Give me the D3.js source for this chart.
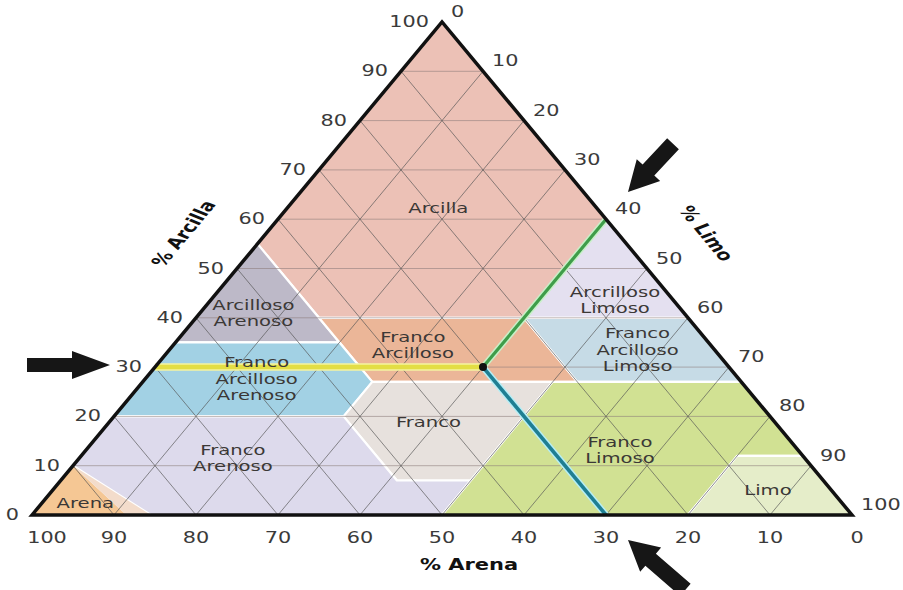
<!DOCTYPE html>
<html lang="es">
<head>
<meta charset="UTF-8">
<title>triangulo textura</title>
<script src="https://cdn.jsdelivr.net/npm/d3@7"></script>
<style>
    *{
        padding: 0;
        margin: 0;
    }
    body{
        background: #fff;
    }
    svg{
        display: block;
    }
    text{
        font-family: "DejaVu Sans", sans-serif;
    }
</style>
</head>
<body>
<script>
    // valores de los ejes
    let ticks = [0,10,20,30,40,50,60,70,80,90,100];
    let gridVals = [10,20,30,40,50,60,70,80,90];
    // clases texturales, vertices como [arena, arcilla] en %
    let classNames = ["Arcilla","Arcilloso Arenoso","Arcrilloso Limoso","Franco Arcilloso",
        "Franco Arcilloso Limoso","Franco Arcilloso Arenoso","Franco","Franco Arenoso",
        "Franco Limoso","Limo","Arena"];
    let classPolys = [
        [[0,100],[0,60],[20,40],[45,40],[45,55]],
        [[45,55],[65,35],[45,35]],
        [[0,60],[0,40],[20,40]],
        [[20,40],[20,27],[45,27],[45,40]],
        [[0,40],[0,27],[20,27],[20,40]],
        [[45,35],[65,35],[80,20],[52,20],[45,27]],
        [[45,27],[23,27],[43,7],[52,7],[52,20]],
        [[80,20],[52,20],[52,7],[43,7],[50,0],[85.5,0],[90,10]],
        [[23,27],[0,27],[0,12],[8,12],[20,0],[50,0],[43,7]],
        [[0,12],[0,0],[20,0],[8,12]],
        [[100,0],[90,10],[88.5,0]]
    ];
    let bandPoly = [[90,10],[88.5,0],[85.5,0]];
    // donde va el nombre de cada clase [arena, arcilla]
    let classLabelAt = [[19.3,62.3],[52.5,41],[7.1,43.6],[36.3,34.5],[9.4,33.5],[58.8,27.6],
        [42.2,18.9],[69.7,11.6],[21.7,13.2],[7.7,5.1],[92.3,2.4]];
    // muestra: 30% arena, 30% arcilla, 40% limo
    let sample = [30,30];

    let classColors = ["#ecc1b6","#bdb9c8","#e4e0f0","#ebb698","#c6dbe6","#a2d1e4",
        "#e7e1dd","#dddaec","#d1e193","#e5edc9","#f5c794"];

    let W = 903, H = 590;
    let SX = 1.4; // texto estirado a lo ancho
    let xs = d3.scaleLinear().domain([0,100]).range([32,852]);
    let ys = d3.scaleLinear().domain([0,100]).range([515,22]);
    function pt(s,c){
        let t = 100 - s - c;
        return [xs(t + c/2), ys(c)];
    }
    let line = d3.line();

    let svg = d3.select("body").append("svg")
        .attr("width", W).attr("height", H);

    // zonas
    svg.append("g").selectAll("path").data(classPolys).enter().append("path")
        .attr("d", function(d){ return line(d.map(function(p){ return pt(p[0],p[1]); })) + "Z"; })
        .attr("fill", function(d,i){ return classColors[i]; })
        .attr("stroke", function(d,i){ return i === 10 ? "none" : "#fff"; })
        .attr("stroke-width", 2.2)
        .attr("stroke-linejoin", "round");
    svg.append("path")
        .attr("d", line(bandPoly.map(function(p){ return pt(p[0],p[1]); })) + "Z")
        .attr("fill", "#f3dccb");

    // cuadricula
    let grid = svg.append("g").attr("fill","none");
    grid.selectAll(".h").data(gridVals).enter().append("path")
        .attr("d", function(c){ return line([pt(100-c,c), pt(0,c)]); })
        .attr("stroke", "#8b7b78").attr("stroke-width", 0.8).attr("opacity", 0.7);
    grid.selectAll(".s").data(gridVals).enter().append("path")
        .attr("d", function(s){ return line([pt(s,0), pt(s,100-s)]); })
        .attr("stroke", "#555").attr("stroke-width", 0.9).attr("opacity", 0.75);
    grid.selectAll(".t").data(gridVals).enter().append("path")
        .attr("d", function(t){ return line([pt(100-t,0), pt(0,100-t)]); })
        .attr("stroke", "#555").attr("stroke-width", 0.9).attr("opacity", 0.75);

    // lineas de lectura
    let p0 = pt(sample[0], sample[1]);
    let clayStart = pt(100 - sample[1], sample[1]);
    let siltStart = pt(0, sample[0] + sample[1]);
    let sandStart = pt(sample[0], 0);
    let reads = [
        {a: clayStart, glow: "#f4f3a0", col: "#e3de45", w: 4.5},
        {a: siltStart, glow: "#c8f0c8", col: "#3f9d4a", w: 3.2},
        {a: sandStart, glow: "#b5eef6", col: "#1f7f93", w: 3.6}
    ];
    reads.forEach(function(r){
        svg.append("path").attr("d", line([r.a, p0]))
            .attr("stroke", r.glow).attr("stroke-width", r.w + 3).attr("fill","none");
        svg.append("path").attr("d", line([r.a, p0]))
            .attr("stroke", r.col).attr("stroke-width", r.w).attr("fill","none");
    });
    svg.append("circle").attr("cx", p0[0]).attr("cy", p0[1]).attr("r", 4).attr("fill", "#111");

    // borde del triangulo
    svg.append("path")
        .attr("d", line([pt(100,0), pt(0,100), pt(0,0)]) + "Z")
        .attr("fill","none").attr("stroke","#111").attr("stroke-width",3.5)
        .attr("stroke-linejoin","miter");

    // nombres de las clases
    let lab = svg.append("g").attr("fill", "#3b3836").attr("font-size", 14);
    classNames.forEach(function(name, i){
        let p = pt(classLabelAt[i][0], classLabelAt[i][1]);
        let words = name.split(" ");
        let g = lab.append("g").attr("transform", "translate(" + p[0] + "," + p[1] + ") scale(" + SX + ",1)");
        let tx = g.append("text").attr("text-anchor", "middle");
        words.forEach(function(w, k){
            tx.append("tspan").attr("x", 0)
                .attr("y", (k - (words.length - 1) / 2) * 16.5 + 5)
                .text(w);
        });
    });

    // marcas de los ejes
    let tk = svg.append("g").attr("fill", "#3a3a3a").attr("font-size", 16);
    ticks.forEach(function(v){
        let a = pt(100 - v, v); // arcilla, lado izquierdo
        tk.append("text").attr("transform", "translate(" + (a[0] - 13) + "," + (a[1] + 5) + ") scale(1.3,1)")
            .attr("text-anchor", "end").text(v);
        let b = pt(0, 100 - v); // limo, lado derecho
        tk.append("text").attr("transform", "translate(" + (b[0] + 9) + "," + (b[1] - 5) + ") scale(1.3,1)")
            .attr("text-anchor", "start").text(v);
        let c = pt(v, 0); // arena, abajo
        let dx = v === 100 ? 15 : (v === 0 ? 5 : 0);
        tk.append("text").attr("transform", "translate(" + (c[0] + dx) + "," + 543 + ") scale(1.3,1)")
            .attr("text-anchor", "middle").text(v);
    });

    // titulos de los ejes
    let tt = svg.append("g").attr("fill", "#111").attr("font-size", 15).attr("font-weight", "bold");
    tt.append("text").attr("transform", "translate(190,236) scale(1.44,1) rotate(-60)")
        .attr("text-anchor", "middle").text("% Arcilla");
    tt.append("text").attr("transform", "translate(700,236) scale(1.44,1) rotate(60)")
        .attr("text-anchor", "middle").text("% Limo");
    tt.append("text").attr("transform", "translate(469,570) scale(1.4,1)")
        .attr("text-anchor", "middle").text("% Arena");

    // flechas
    function arrow(tip, ang, L, shaft, head, headL){
        let d = "M0,0 L" + (-headL) + "," + (-head/2) + " L" + (-headL) + "," + (-shaft/2) +
            " L" + (-L) + "," + (-shaft/2) + " L" + (-L) + "," + (shaft/2) +
            " L" + (-headL) + "," + (shaft/2) + " L" + (-headL) + "," + (head/2) + "Z";
        svg.append("path").attr("d", d)
            .attr("transform", "translate(" + tip[0] + "," + tip[1] + ") rotate(" + ang + ")")
            .attr("fill", "#161616");
    }
    arrow([110,365], 0, 83, 14, 28, 38);
    arrow([628,192], 133, 66, 16, 32, 30);
    arrow([628,540], 221, 76, 16, 32, 30);
</script>
</body>
</html>
